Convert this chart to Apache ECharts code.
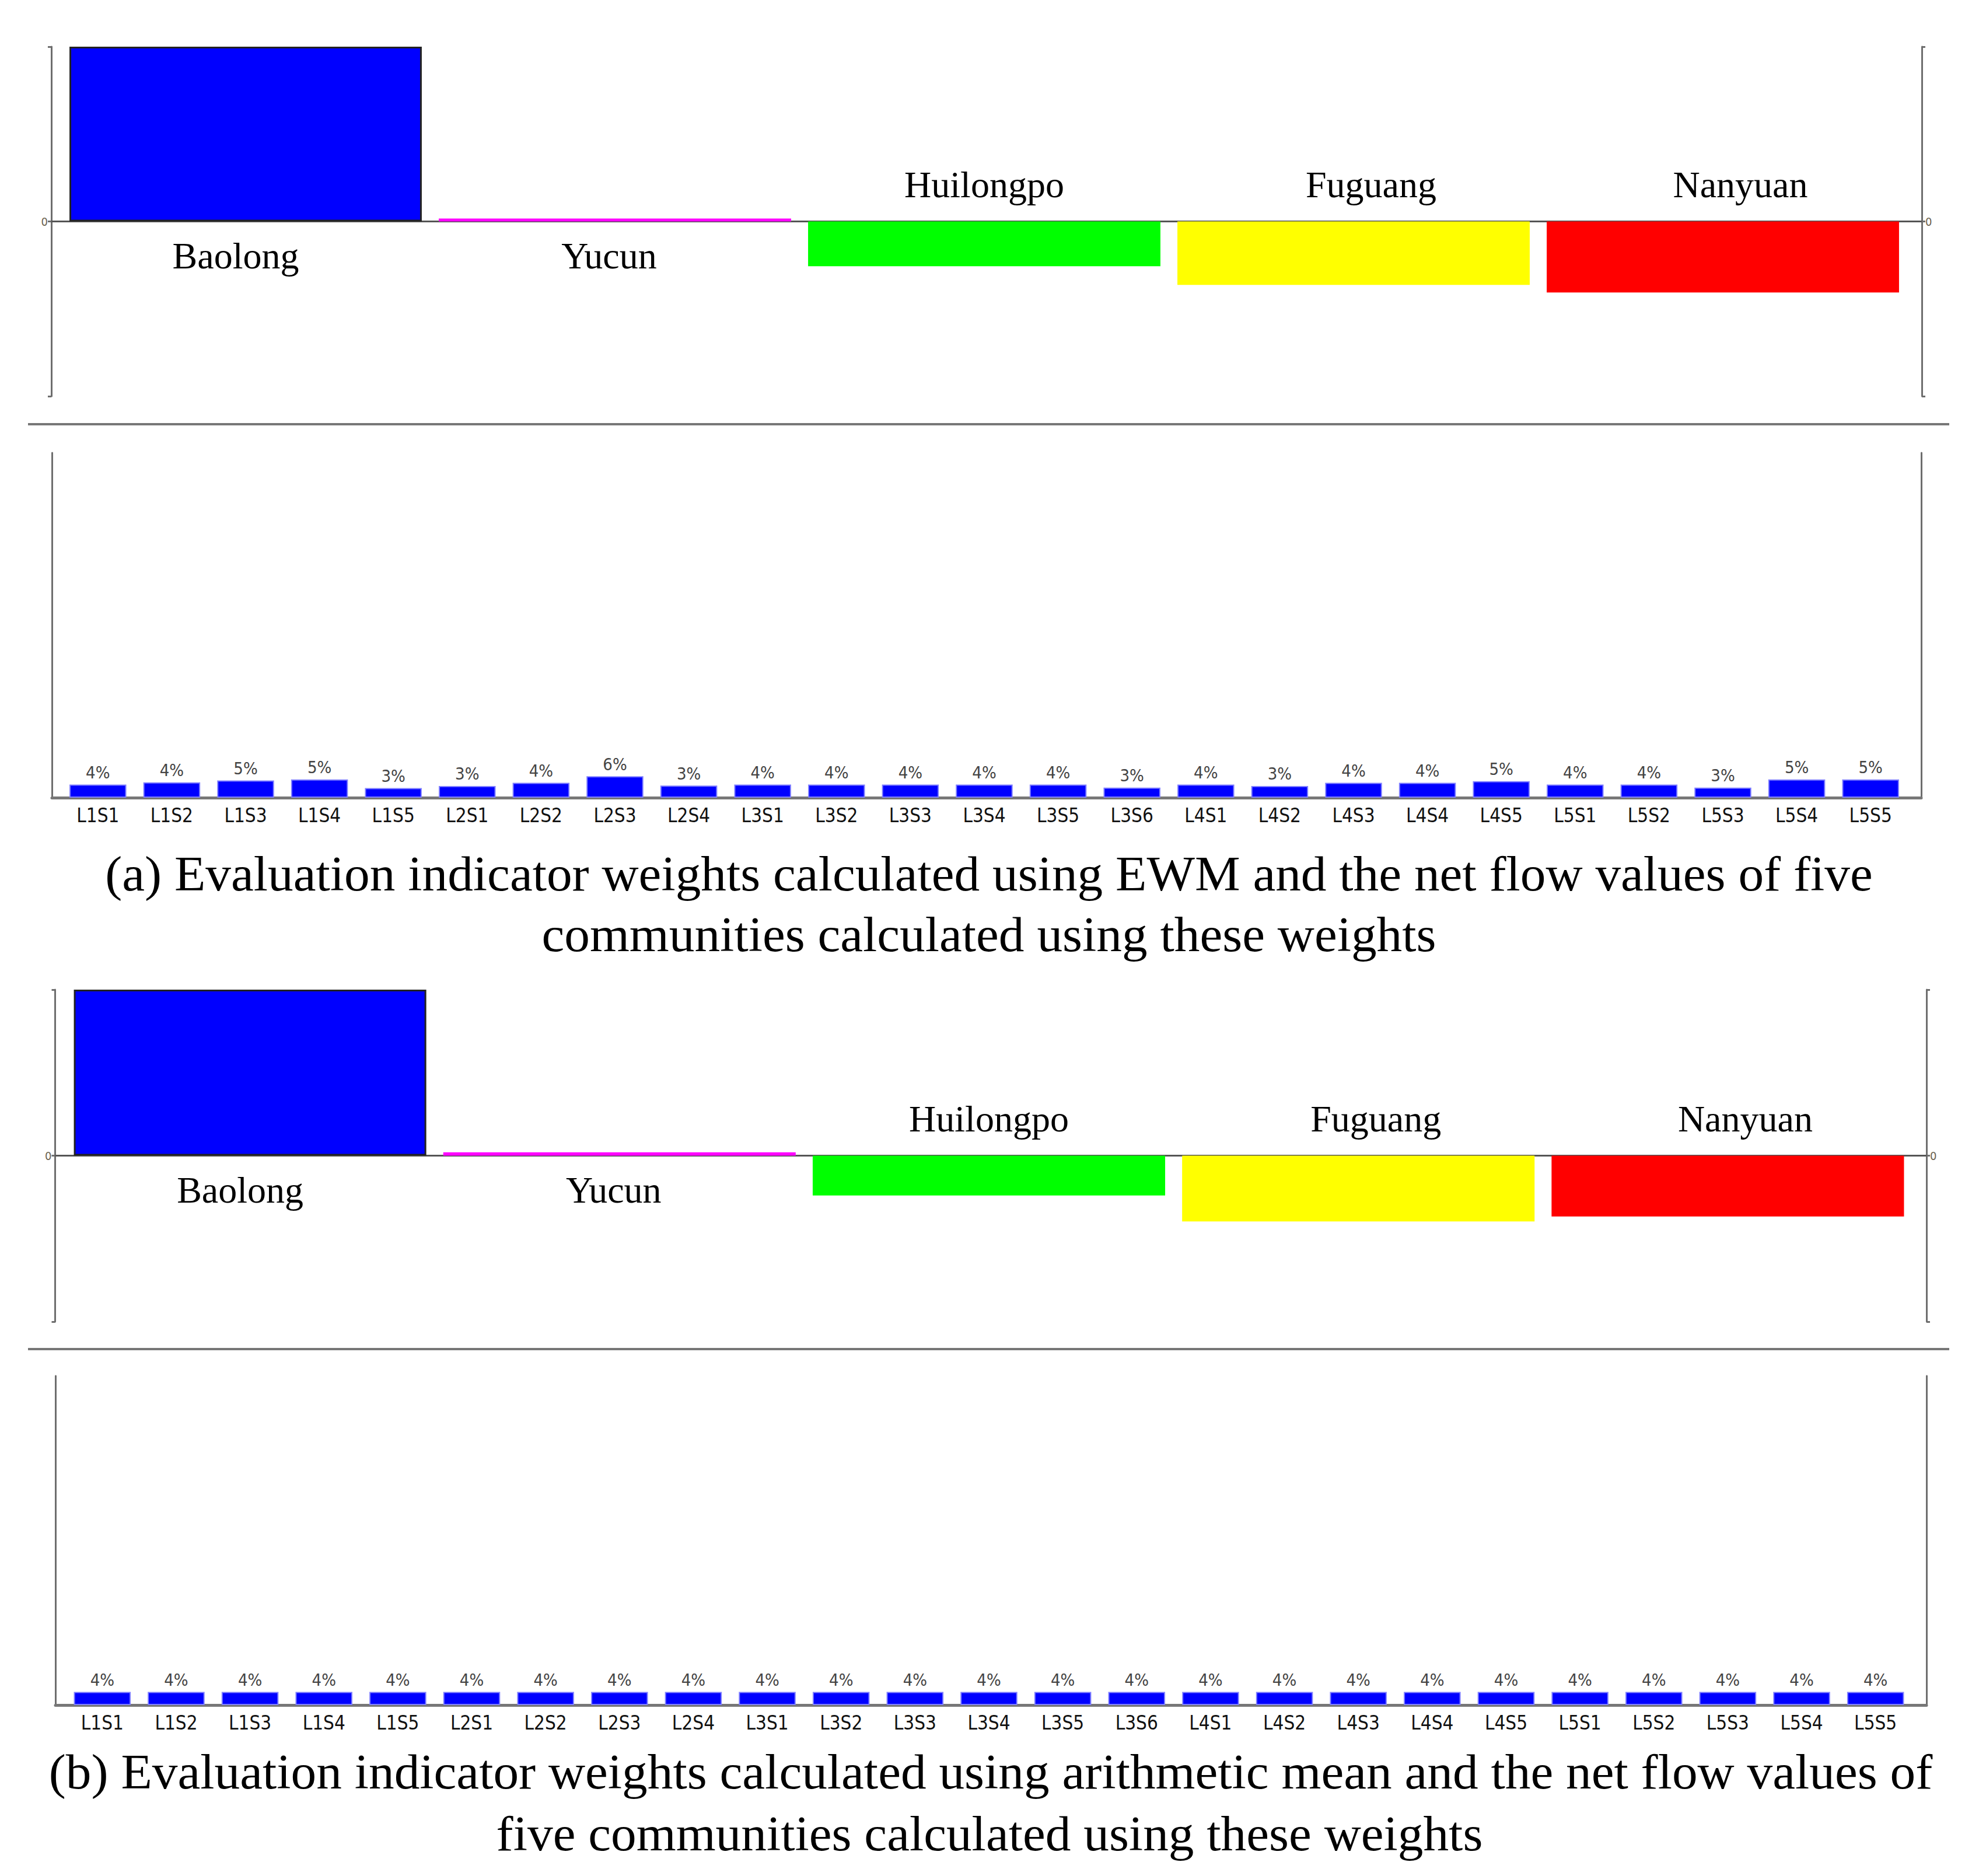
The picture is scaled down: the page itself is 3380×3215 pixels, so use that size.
<!DOCTYPE html>
<html>
<head>
<meta charset="utf-8">
<script src="https://cdn.jsdelivr.net/npm/echarts@6/dist/echarts.min.js"></script>
<style>
html,body{margin:0;padding:0;background:#fff;}
#chart{width:3380px;height:3215px;}
</style>
</head>
<body>
<div id="chart"></div>
<script>
// ---------------- data ----------------
const communities = ['Baolong', 'Yucun', 'Huilongpo', 'Fuguang', 'Nanyuan'];
const communityColors = ['#0000ff', '#ff00ff', '#00ff00', '#ffff00', '#ff0000'];
// net flow values (panel a, EWM weights)
const netFlowA = [0.300, 0.005, -0.077, -0.109, -0.122];
// net flow values (panel b, arithmetic mean weights)
const netFlowB = [0.300, 0.006, -0.072, -0.119, -0.110];
const netFlowMax = 0.300;

const indicators = ['L1S1','L1S2','L1S3','L1S4','L1S5','L2S1','L2S2','L2S3','L2S4',
  'L3S1','L3S2','L3S3','L3S4','L3S5','L3S6','L4S1','L4S2','L4S3','L4S4','L4S5',
  'L5S1','L5S2','L5S3','L5S4','L5S5'];
// weights in percent (EWM)
const weightsA = [3.8, 4.45, 5.0, 5.3, 2.8, 3.4, 4.3, 6.2, 3.49,
  3.8, 3.8, 3.8, 3.8, 3.8, 2.9, 3.8, 3.4, 4.3, 4.3, 4.8,
  3.8, 3.8, 2.9, 5.3, 5.3];
// weights in percent (arithmetic mean)
const weightsB = [4, 4, 4, 4, 4, 4, 4, 4, 4,
  4, 4, 4, 4, 4, 4, 4, 4, 4, 4, 4,
  4, 4, 4, 4, 4];
const weightMax = 100;

const captionA = ['(a) Evaluation indicator weights calculated using EWM and the net flow values of five',
  'communities calculated using these weights'];
const captionB = ['(b) Evaluation indicator weights calculated using arithmetic mean and the net flow values of',
  'five communities calculated using these weights'];

// ---------------- style / layout ----------------
const SERIF = '"Liberation Serif","Times New Roman",serif';
const NARROW = '"DejaVu Sans Condensed","Liberation Sans Narrow","Arial Narrow","DejaVu Sans",sans-serif';
const AXIS_COLOR = '#6e6e6e';
// small horizontal nudges of the community name labels (px), as in the original figure
const nameLabelShift = [-17, -10, 0, 30, 30];

// panels: axis-frame grid (A) and plotting grid (B)
const panels = [
  {kind: 'flow', values: netFlowA, frame: {left: 88, width: 3206, top: 80, height: 599}, plot: {left: 104.5, width: 3165}},
  {kind: 'weight', values: weightsA, frame: {left: 89, width: 3204, top: 776, height: 591}, plot: {left: 104.5, width: 3165}},
  {kind: 'flow', values: netFlowB, frame: {left: 94.5, width: 3207.5, top: 1696, height: 569}, plot: {left: 112, width: 3166}},
  {kind: 'weight', values: weightsB, frame: {left: 95, width: 3207, top: 2358, height: 564}, plot: {left: 112, width: 3166}}
];

const grid = [], xAxis = [], yAxis = [], series = [];

panels.forEach((p, i) => {
  const gA = grid.length;
  grid.push({left: p.frame.left, width: p.frame.width, top: p.frame.top, height: p.frame.height, containLabel: false});
  const gB = grid.length;
  grid.push({left: p.plot.left, width: p.plot.width, top: p.frame.top, height: p.frame.height, containLabel: false});

  const isFlow = p.kind === 'flow';
  const yMin = isFlow ? -netFlowMax : 0;
  const yMax = isFlow ? netFlowMax : weightMax;
  const yInt = isFlow ? netFlowMax : weightMax;

  // frame axes
  xAxis.push({
    gridIndex: gA, type: 'category', data: [''],
    axisLine: {show: true, onZero: true, lineStyle: {color: isFlow ? '#555' : '#777', width: isFlow ? 3 : 5}},
    axisTick: {show: false}, axisLabel: {show: false}, splitLine: {show: false}
  });
  ['left', 'right'].forEach(pos => {
    yAxis.push({
      gridIndex: gA, type: 'value', position: pos, min: yMin, max: yMax, interval: yInt,
      axisLine: {show: true, lineStyle: {color: AXIS_COLOR, width: 3}},
      axisTick: {show: isFlow, length: 6, lineStyle: {color: AXIS_COLOR, width: 3}},
      axisLabel: {show: isFlow, formatter: v => (v === 0 ? '0' : ''), color: '#6b6250', fontSize: 20,
        fontFamily: NARROW, margin: 6},
      splitLine: {show: false}
    });
  });

  // plotting axes
  const xb = xAxis.length;
  xAxis.push({
    gridIndex: gB, type: 'category', data: isFlow ? communities : indicators,
    axisLine: {show: false}, axisTick: {show: false},
    axisLabel: isFlow ? {show: false} : {show: true, interval: 0, color: '#111', fontSize: 33,
      fontFamily: NARROW, margin: 14},
    splitLine: {show: false}
  });
  const yb = yAxis.length;
  yAxis.push({gridIndex: gB, type: 'value', min: yMin, max: yMax, interval: yInt, show: false});

  if (isFlow) {
    series.push({
      type: 'bar', xAxisIndex: xb, yAxisIndex: yb, barCategoryGap: '4.6%',
      data: p.values.map((v, k) => ({
        value: v,
        itemStyle: {color: communityColors[k], borderColor: k === 0 ? '#222' : communityColors[k], borderWidth: k === 0 ? 3 : 0},
        label: {position: v >= 0 ? 'bottom' : 'top', distance: v >= 0 ? 27 : 31, offset: [nameLabelShift[k], 0]}
      })),
      label: {show: true, formatter: prm => communities[prm.dataIndex], color: '#000', fontSize: 64,
        fontFamily: SERIF},
      silent: true, animation: false
    });
  } else {
    series.push({
      type: 'bar', xAxisIndex: xb, yAxisIndex: yb, barCategoryGap: '23%',
      data: p.values,
      itemStyle: {color: '#0000ff', borderColor: '#7f7fff', borderWidth: 2},
      label: {show: true, position: 'top', formatter: prm => Math.round(prm.value) + '%', color: '#444',
        fontSize: 29, fontFamily: NARROW, distance: 6},
      silent: true, animation: false
    });
  }
});

const captionStyle = {font: '84px ' + SERIF, fill: '#000', textAlign: 'center', textVerticalAlign: 'middle'};
const graphic = [
  {type: 'line', shape: {x1: 48, y1: 727, x2: 3341, y2: 727}, style: {stroke: '#777', lineWidth: 4}, silent: true},
  {type: 'line', shape: {x1: 48, y1: 2312, x2: 3341, y2: 2312}, style: {stroke: '#777', lineWidth: 4}, silent: true},
  {type: 'text', x: 1695, y: 1498, scaleX: 1.04, style: Object.assign({text: captionA[0]}, captionStyle), silent: true},
  {type: 'text', x: 1695, y: 1602, scaleX: 1.04, style: Object.assign({text: captionA[1]}, captionStyle), silent: true},
  {type: 'text', x: 1698, y: 3037, scaleX: 1.04, style: Object.assign({text: captionB[0]}, captionStyle), silent: true},
  {type: 'text', x: 1696, y: 3143, scaleX: 1.04, style: Object.assign({text: captionB[1]}, captionStyle), silent: true}
];

const chart = echarts.init(document.getElementById('chart'), null, {renderer: 'svg', width: 3380, height: 3215});
chart.setOption({
  backgroundColor: '#ffffff',
  animation: false,
  grid, xAxis, yAxis, series, graphic
});
</script>
</body>
</html>
